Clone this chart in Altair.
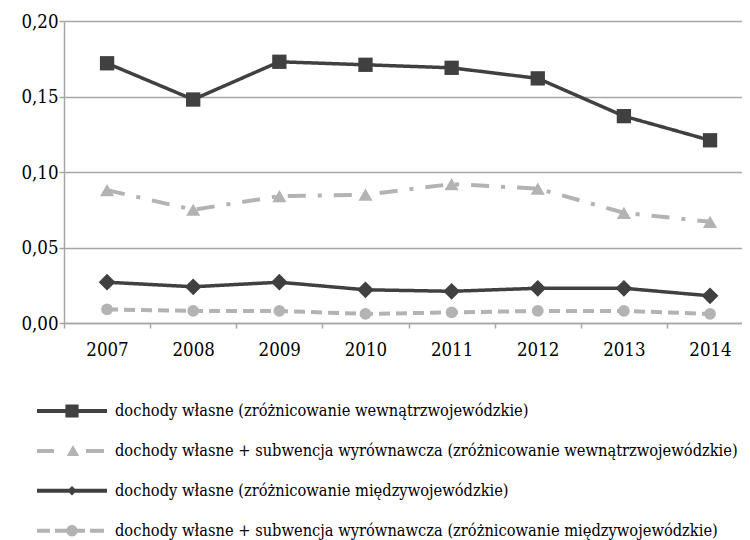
import altair as alt
import pandas as pd

years = [2007, 2008, 2009, 2010, 2011, 2012, 2013, 2014]
series_names = [
    "dochody własne (zróżnicowanie wewnątrzwojewódzkie)",
    "dochody własne + subwencja wyrównawcza (zróżnicowanie wewnątrzwojewódzkie)",
    "dochody własne (zróżnicowanie międzywojewódzkie)",
    "dochody własne + subwencja wyrównawcza (zróżnicowanie międzywojewódzkie)",
]
own_intra = [0.172, 0.148, 0.173, 0.171, 0.169, 0.162, 0.137, 0.121]
own_sub_intra = [0.088, 0.075, 0.084, 0.085, 0.092, 0.089, 0.073, 0.067]
own_inter = [0.027, 0.024, 0.027, 0.022, 0.021, 0.023, 0.023, 0.018]
own_sub_inter = [0.009, 0.008, 0.008, 0.006, 0.007, 0.008, 0.008, 0.006]
y_ticks = [0.0, 0.05, 0.10, 0.15, 0.20]

DARK = "#404040"
LIGHT = "#b3b3b3"
AXIS = "#a6a6a6"
FONT = "DejaVu Serif Condensed, DejaVu Serif, serif"

colors = [DARK, LIGHT, DARK, LIGHT]
dashes = [[1, 0], [18, 12, 4, 12], [1, 0], [11, 6]]
widths = [3.5, 4, 3.5, 4]
shapes = ["square", "triangle-up", "diamond", "circle"]
sizes = [205, 200, 280, 140]
# legend samples (unit = 20 px): line/dashes with the marker in the middle
legend_paths = [
    "M-1.75,-0.1H1.75V0.1H-1.75ZM-0.33,-0.32H0.33V0.32H-0.33Z",
    "M-1.75,-0.1H-0.9V0.1H-1.75ZM0.7,-0.1H1.6V0.1H0.7ZM0.05,-0.3L0.36,0.25L-0.26,0.25Z",
    "M-1.75,-0.1H1.75V0.1H-1.75ZM0,-0.24L0.24,0L0,0.24L-0.24,0Z",
    "M-1.75,-0.1H-1.1V0.1H-1.75ZM-0.85,-0.1H0.65V0.1H-0.85ZM0.9,-0.1H1.6V0.1H0.9Z"
    "M-0.285,0A0.285,0.285 0 1 1 0.285,0A0.285,0.285 0 1 1 -0.285,0Z",
]

all_values = [own_intra, own_sub_intra, own_inter, own_sub_inter]
rows = []
for name, vals in zip(series_names, all_values):
    for yr, v in zip(years, vals):
        rows.append({"year": yr, "value": v, "series": name})
df = pd.DataFrame(rows)

tick_positions = [y - 0.5 for y in years]

x_enc = alt.X(
    "year:Q",
    scale=alt.Scale(domain=[2006.5, 2014.371], nice=False, zero=False),
    axis=alt.Axis(
        values=tick_positions,
        labelExpr="format(datum.value + 0.5, 'd')",
        labelOffset=43,
        labelFlush=False,
        labelOverlap=False,
        grid=False,
        title=None,
        tickSize=5,
        labelPadding=12,
    ),
)
y_enc = alt.Y(
    "value:Q",
    scale=alt.Scale(domain=[0, 0.2], nice=False),
    axis=alt.Axis(
        values=y_ticks,
        labelExpr="replace(format(datum.value, '.2f'), '.', ',')",
        grid=True,
        title=None,
        tickSize=5,
        labelPadding=1,
    ),
)

layers = []
for i, name in enumerate(series_names):
    base = alt.Chart(df).transform_filter(alt.datum.series == name)
    layers.append(
        base.mark_line(color=colors[i], strokeWidth=widths[i], strokeDash=dashes[i]).encode(x=x_enc, y=y_enc)
    )
for i, name in enumerate(series_names):
    base = alt.Chart(df).transform_filter(alt.datum.series == name)
    layers.append(
        base.mark_point(shape=shapes[i], size=sizes[i], filled=True, color=colors[i], opacity=1).encode(
            x=x_enc, y=y_enc
        )
    )

legend_layer = (
    alt.Chart(df)
    .transform_filter("false")
    .mark_point(filled=True, size=1600, opacity=1)
    .encode(
        fill=alt.Fill(
            "series:N",
            scale=alt.Scale(domain=series_names, range=colors),
            legend=alt.Legend(
                title=None,
                orient="none",
                legendX=-12,
                legendY=370,
                symbolSize=1600,
                symbolStrokeWidth=0,
                labelFont=FONT,
                labelFontSize=16.3,
                labelColor="black",
                labelLimit=1000,
                labelOffset=23,
                rowPadding=10.9,
                padding=0,
            ),
        ),
        shape=alt.Shape(
            "series:N",
            scale=alt.Scale(domain=series_names, range=legend_paths),
        ),
    )
)
layers.append(legend_layer)

chart = (
    alt.layer(*layers)
    .properties(
        width=678,
        height=302,
        autosize=alt.AutoSizeParams(type="none"),
        padding={"left": 56, "top": 13, "right": 0, "bottom": 221},
    )
    .configure_view(stroke=None)
    .configure_axis(
        labelFont=FONT,
        labelFontSize=18.5,
        labelColor="black",
        domainColor=AXIS,
        domainWidth=1.5,
        tickColor=AXIS,
        tickWidth=1.5,
        gridColor=AXIS,
        gridWidth=1.5,
    )
)

chart.save("out.html", embed_options={"renderer": "svg", "actions": False})
